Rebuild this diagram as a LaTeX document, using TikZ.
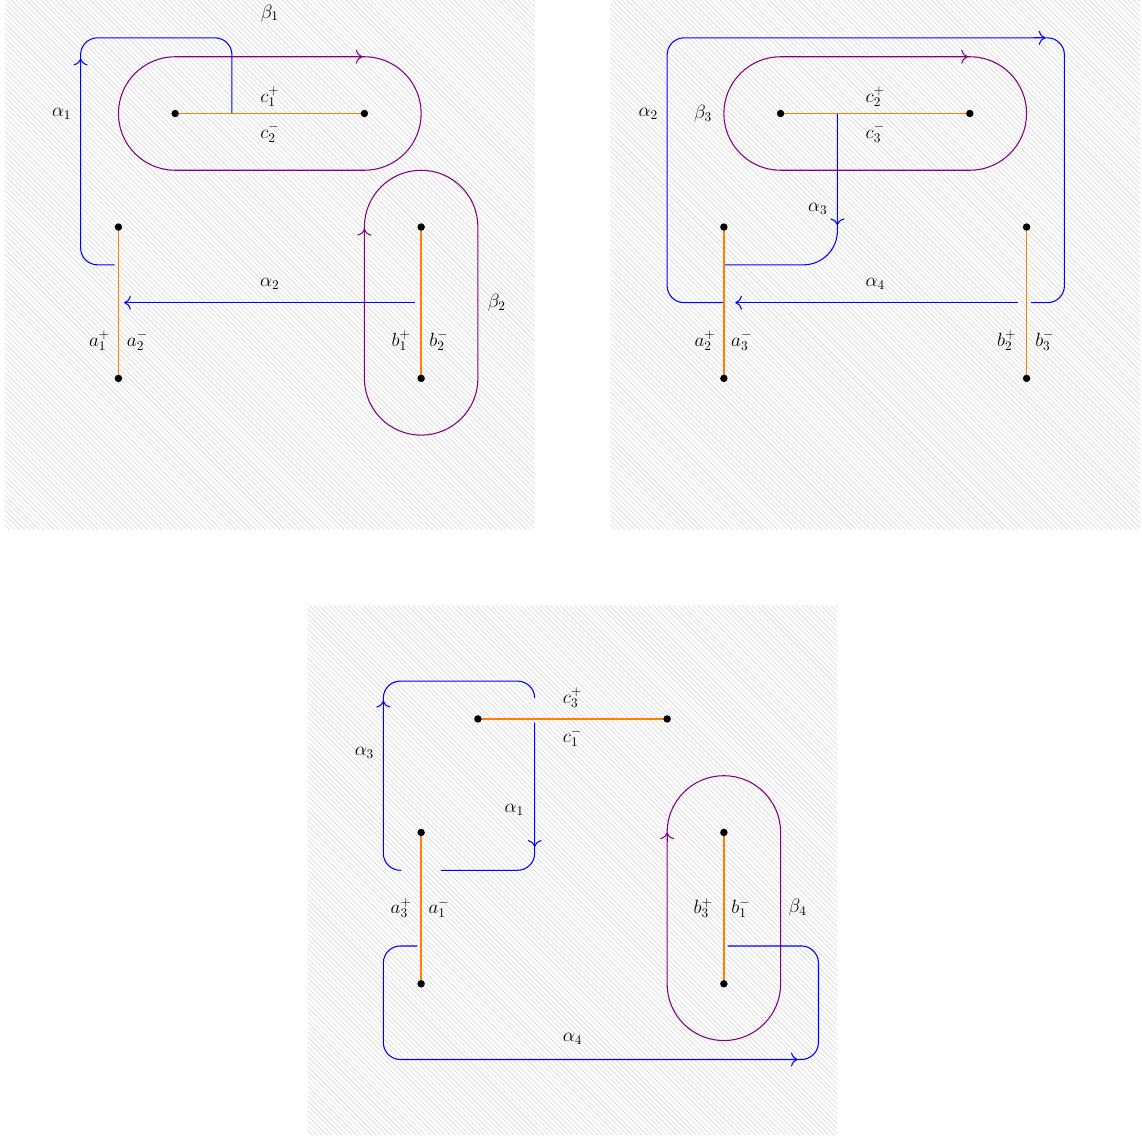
\documentclass[tikz,border=0pt]{standalone}
\usetikzlibrary{arrows.meta}
\tikzset{
  hatch/.style={black!16, line width=0.45pt},
  cut/.style={orange, line width=1.2pt},
  cutfill/.style={fill=orange},
  dot/.style={fill=black},
  acurve/.style={blue, thick, rounded corners=0.45cm},
  bcurve/.style={violet, thick},
  atip/.style={blue, thick, -{To[scale=1.5]}},
  btip/.style={violet, thick, -{To[scale=1.5]}},
  lab/.style={font=\fontsize{14.4}{17}\selectfont, inner sep=1pt}
}
\newcommand{\panelbg}{%
  \begin{scope}
    \clip (0,0) rectangle (14,14);
    \foreach \i in {0,...,216} {\draw[hatch] (\i*0.13,0) -- ++(-14,14);}
  \end{scope}%
}
\newcommand{\cutsandpoints}{%
  \coordinate (A0) at (3,4); \coordinate (A1) at (3,8);
  \coordinate (B0) at (11,4); \coordinate (B1) at (11,8);
  \coordinate (C0) at (4.5,11); \coordinate (C1) at (9.5,11);
  \draw[cut] (A0) -- (A1);
  \draw[cut] (B0) -- (B1);
  \path[cutfill] (4.5,10.978) rectangle (9.5,11.022);
  \foreach \p in {A0,A1,B0,B1,C0,C1} {\fill[dot] (\p) circle (2.8pt);}
}
\begin{document}
\begin{tikzpicture}
\useasboundingbox (-0.13,0) rectangle (30.05,30);
% ---------------- panel 1
\begin{scope}[shift={(0,16)}]
  \panelbg
  \draw[bcurve] (4.5,12.5) -- (9.5,12.5) arc[start angle=90,end angle=-90,radius=1.5]
     -- (4.5,9.5) arc[start angle=270,end angle=90,radius=1.5] -- cycle;
  \draw[btip] (9.2,12.5) -- (9.45,12.5);
  \draw[bcurve] (9.5,4) -- (9.5,8) arc[start angle=180,end angle=0,radius=1.5]
     -- (12.5,4) arc[start angle=0,end angle=-180,radius=1.5] -- cycle;
  \draw[btip] (9.5,7.7) -- (9.5,7.95);
  \draw[acurve] (2.9,7) -- (2,7) -- (2,13) -- (6,13) -- (6,11);
  \draw[atip] (2,12.2) -- (2,12.45);
  \draw[atip] (10.85,6) -- (3.15,6);
  \cutsandpoints
  \node[lab] (p1alpha1) at (1.5,11) {$\alpha_1$};
  \node[lab] (p1beta1) at (7,13.65) {$\beta_1$};
  \node[lab] (p1cp) at (7,11.45) {$c_1^+$};
  \node[lab] (p1cm) at (7,10.5) {$c_2^-$};
  \node[lab] (p1alpha2) at (7,6.5) {$\alpha_2$};
  \node[lab] (p1beta2) at (13,6) {$\beta_2$};
  \node[lab] (p1ap) at (2.5,5) {$a_1^+$};
  \node[lab] (p1am) at (3.5,5) {$a_2^-$};
  \node[lab] (p1bp) at (10.47,5) {$b_1^+$};
  \node[lab] (p1bm) at (11.47,5) {$b_2^-$};
\end{scope}
% ---------------- panel 2
\begin{scope}[shift={(16,16)}]
  \panelbg
  \draw[bcurve] (4.5,12.5) -- (9.5,12.5) arc[start angle=90,end angle=-90,radius=1.5]
     -- (4.5,9.5) arc[start angle=270,end angle=90,radius=1.5] -- cycle;
  \draw[btip] (9.2,12.5) -- (9.45,12.5);
  \draw[acurve] (3,6) -- (1.5,6) -- (1.5,13) -- (12,13) -- (12,6) -- (11.12,6);
  \draw[atip] (11.2,13) -- (11.5,13);
  \draw[atip] (10.77,6) -- (3.3,6);
  \draw[blue, thick, rounded corners=0.9cm] (6,11) -- (6,7) -- (3.03,7);
  \draw[atip] (6,8.35) -- (6,8.05);
  \cutsandpoints
  \node[lab] (p2alpha2) at (1,11) {$\alpha_2$};
  \node[lab] (p2beta3) at (2.45,11) {$\beta_3$};
  \node[lab] (p2cp) at (7,11.45) {$c_2^+$};
  \node[lab] (p2cm) at (7,10.5) {$c_3^-$};
  \node[lab] (p2alpha3) at (5.48,8.48) {$\alpha_3$};
  \node[lab] (p2alpha4) at (7,6.5) {$\alpha_4$};
  \node[lab] (p2ap) at (2.5,5) {$a_2^+$};
  \node[lab] (p2am) at (3.47,5) {$a_3^-$};
  \node[lab] (p2bp) at (10.47,5) {$b_2^+$};
  \node[lab] (p2bm) at (11.48,5) {$b_3^-$};
\end{scope}
% ---------------- panel 3
\begin{scope}[shift={(8,0)}]
  \panelbg
  \draw[bcurve] (9.5,4) -- (9.5,8) arc[start angle=180,end angle=0,radius=1.5]
     -- (12.5,4) arc[start angle=0,end angle=-180,radius=1.5] -- cycle;
  \draw[btip] (9.5,7.75) -- (9.5,8.0);
  \draw[acurve] (2.47,7) -- (2,7) -- (2,12) -- (6,12) -- (6,11.55);
  \draw[atip] (2,11.2) -- (2,11.48);
  \draw[acurve] (6,10.9) -- (6,7) -- (3.52,7);
  \draw[atip] (6,7.95) -- (6,7.62);
  \draw[acurve] (2.9,5) -- (2,5) -- (2,2) -- (13.5,2) -- (13.5,5) -- (11.1,5);
  \draw[atip] (12.65,2) -- (12.95,2);
  \cutsandpoints
  \node[lab] (p3alpha3) at (1.5,10.1) {$\alpha_3$};
  \node[lab] (p3cp) at (7,11.57) {$c_3^+$};
  \node[lab] (p3cm) at (7,10.52) {$c_1^-$};
  \node[lab] (p3alpha1) at (5.46,8.59) {$\alpha_1$};
  \node[lab] (p3ap) at (2.47,6) {$a_3^+$};
  \node[lab] (p3am) at (3.47,6) {$a_1^-$};
  \node[lab] (p3bp) at (10.45,6) {$b_3^+$};
  \node[lab] (p3bm) at (11.45,6) {$b_1^-$};
  \node[lab] (p3beta4) at (12.95,6) {$\beta_4$};
  \node[lab] (p3alpha4) at (7,2.55) {$\alpha_4$};
\end{scope}
\end{tikzpicture}
\end{document}
